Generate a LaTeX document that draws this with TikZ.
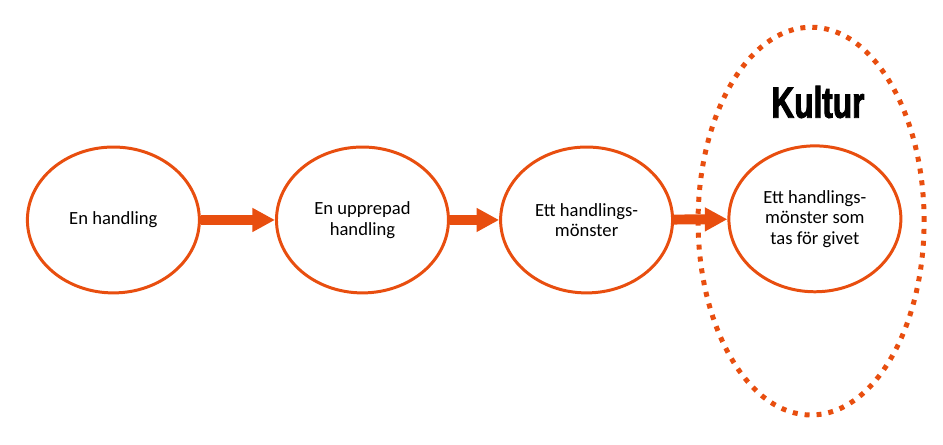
\documentclass[tikz,border=0pt]{standalone}
\usepackage{fontspec}
\setmainfont{Carlito}
\newfontfamily\kulturfont[FakeStretch=0.72,FakeBold=2]{Liberation Sans}
\usetikzlibrary{shapes.geometric, arrows.meta}
\definecolor{rust}{RGB}{232,78,15}
\tikzset{
    handling/.style={
        ellipse,
        draw=rust,
        fill=white,
        line width=2.25pt,
        minimum width=4.55cm,
        minimum height=3.86cm,
        inner sep=0pt,
        align=center,
        font=\fontsize{14}{15.5}\selectfont
    },
    kultur/.style={
        ellipse,
        draw=rust,
        line width=3.75pt,
        dash pattern=on 3.75pt off 5.25pt,
        minimum width=5.98cm,
        minimum height=10.26cm
    },
    every edge/.style={
        draw=rust,
        line width=7.5pt,
        -{Triangle[length=17pt,width=17pt]}
    }
}

\begin{document}
\begin{tikzpicture}
	\useasboundingbox (0,0) rectangle (24.95,11.75);
	\node[handling] at (3.00,5.93) (h1) {En handling};
	\node[handling] at (9.59,5.93) (h2) {En upprepad\\handling};
	\node[handling] at (15.52,5.93) (h3) {Ett handlings-\\mönster};
	\node[handling] at (21.56,5.96) (h4) {Ett handlings-\\mönster som\\tas för givet};
	\draw
	(h1) edge (h2)
	(h2) edge (h3)
	(h3) edge (h4);
	% den prickade ramen runt kulturen
	\node[kultur] at (21.46,5.90) (ram) {};
	\node[font=\kulturfont\bfseries\fontsize{33}{33}\selectfont] at (21.64,9.05) (titel) {Kultur};
\end{tikzpicture}
\end{document}
